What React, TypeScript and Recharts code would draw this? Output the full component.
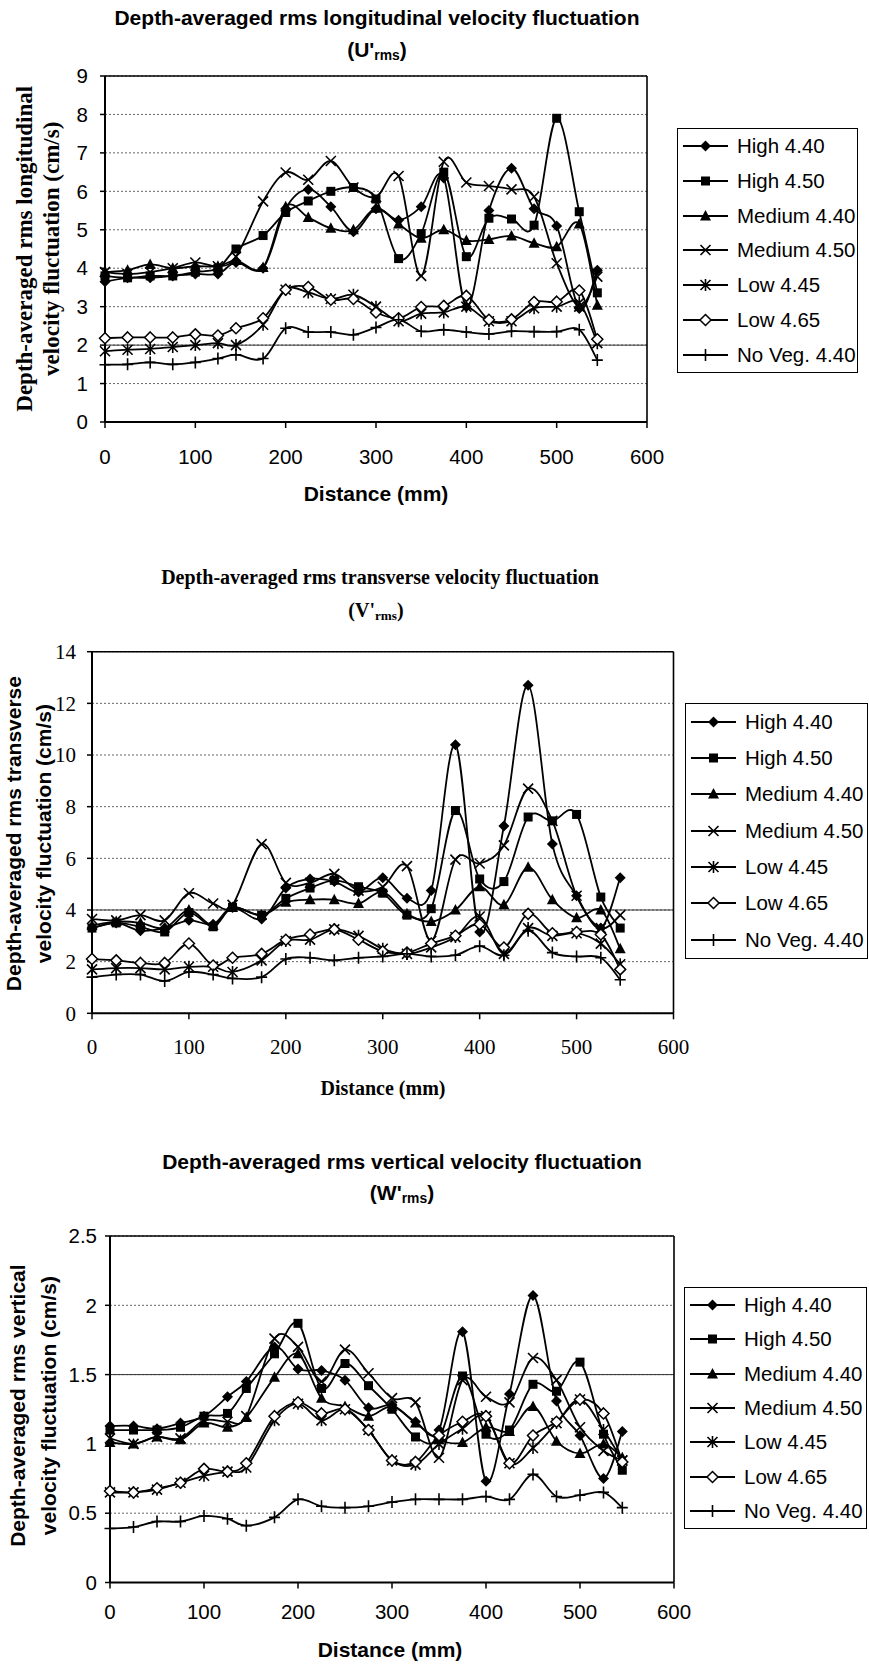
import React from "react";
import { CartesianGrid, Legend, Line, LineChart, ReferenceLine, XAxis, YAxis } from "recharts";

const SANS = '"Liberation Sans", Arial, sans-serif';
const SERIF = '"Liberation Serif", "Times New Roman", serif';

// distance along the flume (mm)
const distance = [0, 25, 50, 75, 100, 125, 145, 175, 200, 225, 250, 275, 300, 325, 350, 375, 400, 425, 450, 475, 500, 525, 545];

const seriesNames = ["High 4.40", "High 4.50", "Medium 4.40", "Medium 4.50", "Low 4.45", "Low 4.65", "No Veg. 4.40"];
const markerKinds = ["diamond", "square", "triangle", "cross", "star", "openDiamond", "plus"];

// U'rms (cm/s)
const uHigh440 = [3.65, 3.75, 3.75, 3.8, 3.85, 3.85, 4.15, 4.0, 5.55, 6.05, 5.6, 4.95, 5.55, 5.25, 5.6, 6.35, 3.0, 5.5, 6.6, 5.55, 5.1, 2.95, 3.95];
const uHigh450 = [3.8, 3.75, 3.8, 3.8, 3.9, 4.0, 4.5, 4.85, 5.45, 5.75, 6.0, 6.1, 5.8, 4.25, 4.9, 6.5, 4.3, 5.3, 5.28, 5.12, 7.9, 5.47, 3.36];
const uMed440 = [3.9, 3.95, 4.1, 4.0, 4.05, 4.05, 4.2, 4.02, 5.6, 5.32, 5.04, 5.0, 5.56, 5.15, 4.78, 5.0, 4.72, 4.75, 4.84, 4.65, 4.56, 5.15, 3.04];
const uMed450 = [3.9, 3.85, 3.9, 4.0, 4.15, 4.05, 4.3, 5.74, 6.49, 6.3, 6.79, 6.1, 5.85, 6.4, 3.8, 6.77, 6.23, 6.14, 6.05, 5.86, 4.13, 3.0, 3.78];
const uLow445 = [1.84, 1.88, 1.9, 1.95, 2.0, 2.05, 2.0, 2.53, 3.44, 3.37, 3.2, 3.31, 3.0, 2.62, 2.82, 2.85, 3.0, 2.62, 2.62, 2.96, 3.0, 3.1, 2.05];
const uLow465 = [2.18, 2.2, 2.2, 2.2, 2.28, 2.25, 2.44, 2.7, 3.44, 3.51, 3.18, 3.2, 2.85, 2.7, 2.99, 3.02, 3.28, 2.66, 2.67, 3.12, 3.13, 3.42, 2.15];
const uNoVeg = [1.49, 1.5, 1.55, 1.5, 1.55, 1.65, 1.75, 1.65, 2.44, 2.34, 2.34, 2.27, 2.46, 2.66, 2.36, 2.4, 2.34, 2.29, 2.36, 2.35, 2.35, 2.4, 1.61];

// V'rms (cm/s)
const vHigh440 = [3.3, 3.5, 3.2, 3.3, 3.6, 3.45, 4.1, 3.65, 4.85, 5.2, 5.1, 4.7, 5.25, 4.45, 4.75, 10.4, 3.15, 7.25, 12.7, 6.55, 4.55, 3.3, 5.25];
const vHigh450 = [3.3, 3.5, 3.35, 3.15, 3.9, 3.35, 4.1, 3.8, 4.45, 4.85, 5.15, 4.9, 4.65, 3.8, 4.05, 7.85, 5.2, 5.1, 7.6, 7.45, 7.7, 4.5, 3.3];
const vMed440 = [3.4, 3.55, 3.5, 3.3, 4.0, 3.4, 4.1, 3.8, 4.3, 4.4, 4.4, 4.25, 4.7, 3.85, 3.55, 4.0, 4.9, 4.2, 5.65, 4.4, 3.7, 4.0, 2.5];
const vMed450 = [3.65, 3.6, 3.8, 3.6, 4.65, 4.25, 4.2, 6.55, 5.05, 5.05, 5.4, 4.75, 4.9, 5.7, 2.8, 5.95, 5.8, 6.5, 8.7, 7.45, 4.55, 3.3, 3.8];
const vLow445 = [1.7, 1.75, 1.75, 1.7, 1.8, 1.8, 1.6, 2.05, 2.8, 2.85, 3.25, 3.0, 2.5, 2.3, 2.55, 2.95, 3.75, 2.3, 3.3, 3.0, 3.1, 2.7, 1.9];
const vLow465 = [2.1, 2.05, 1.95, 1.95, 2.7, 1.85, 2.15, 2.3, 2.85, 3.05, 3.25, 2.85, 2.4, 2.35, 2.7, 3.0, 3.45, 2.55, 3.85, 3.1, 3.15, 3.05, 1.7];
const vNoVeg = [1.4, 1.5, 1.5, 1.25, 1.6, 1.5, 1.35, 1.4, 2.1, 2.15, 2.05, 2.15, 2.2, 2.3, 2.2, 2.25, 2.6, 2.25, 3.2, 2.35, 2.2, 2.15, 1.3];

// W'rms (cm/s)
const wHigh440 = [1.13, 1.13, 1.11, 1.15, 1.2, 1.34, 1.45, 1.7, 1.54, 1.53, 1.46, 1.26, 1.28, 1.16, 1.1, 1.81, 0.73, 1.36, 2.07, 1.31, 1.06, 0.75, 1.09];
const wHigh450 = [1.1, 1.1, 1.1, 1.12, 1.2, 1.22, 1.4, 1.65, 1.87, 1.4, 1.58, 1.42, 1.25, 1.05, 1.04, 1.49, 1.07, 1.1, 1.43, 1.38, 1.59, 1.07, 0.81];
const wMed440 = [1.01, 1.0, 1.05, 1.03, 1.15, 1.12, 1.19, 1.48, 1.65, 1.33, 1.27, 1.2, 1.27, 1.15, 1.03, 1.01, 1.12, 1.09, 1.27, 1.02, 0.93, 1.0, 0.9];
const wMed450 = [1.04, 1.0, 1.05, 1.04, 1.17, 1.16, 1.2, 1.76, 1.7, 1.45, 1.68, 1.51, 1.33, 1.3, 0.9, 1.46, 1.34, 1.3, 1.62, 1.46, 1.12, 0.95, 0.88];
const wLow445 = [0.65, 0.65, 0.67, 0.72, 0.77, 0.8, 0.83, 1.17, 1.29, 1.17, 1.25, 1.1, 0.88, 0.85, 1.0, 1.11, 1.2, 0.86, 0.97, 1.15, 1.32, 1.1, 0.88];
const wLow465 = [0.66, 0.65, 0.68, 0.72, 0.82, 0.8, 0.86, 1.2, 1.3, 1.22, 1.25, 1.1, 0.88, 0.87, 1.06, 1.16, 1.2, 0.86, 1.06, 1.16, 1.32, 1.22, 0.87];
const wNoVeg = [0.39, 0.4, 0.44, 0.44, 0.48, 0.46, 0.41, 0.47, 0.6, 0.55, 0.54, 0.55, 0.58, 0.6, 0.6, 0.6, 0.62, 0.6, 0.78, 0.62, 0.63, 0.65, 0.54];

const xTicks = [0, 100, 200, 300, 400, 500, 600];
const uTicks = [0, 1, 2, 3, 4, 5, 6, 7, 8, 9];
const vTicks = [0, 2, 4, 6, 8, 10, 12, 14];
const wTicks = [0, 0.5, 1, 1.5, 2, 2.5];

const toRows = (cols: number[][]) =>
  distance.map((d, i) => {
    const row: Record<string, number> = { d };
    cols.forEach((c, k) => (row["s" + k] = c[i]));
    return row;
  });

const uRows = toRows([uHigh440, uHigh450, uMed440, uMed450, uLow445, uLow465, uNoVeg]);
const vRows = toRows([vHigh440, vHigh450, vMed440, vMed450, vLow445, vLow465, vNoVeg]);
const wRows = toRows([wHigh440, wHigh450, wMed440, wMed450, wLow445, wLow465, wNoVeg]);

// Excel-style smoothed line (Catmull-Rom through the points)
const excelSmooth = (context: any) => {
  let pts: number[][] = [];
  return {
    areaStart() {},
    areaEnd() {},
    lineStart() {
      pts = [];
    },
    point(x: number, y: number) {
      pts.push([+x, +y]);
    },
    lineEnd() {
      const n = pts.length;
      if (!n) return;
      context.moveTo(pts[0][0], pts[0][1]);
      for (let i = 0; i < n - 1; i++) {
        const p0 = pts[i - 1] || pts[i];
        const p1 = pts[i];
        const p2 = pts[i + 1];
        const p3 = pts[i + 2] || p2;
        context.bezierCurveTo(
          p1[0] + (p2[0] - p0[0]) / 6,
          p1[1] + (p2[1] - p0[1]) / 6,
          p2[0] - (p3[0] - p1[0]) / 6,
          p2[1] - (p3[1] - p1[1]) / 6,
          p2[0],
          p2[1]
        );
      }
    },
  };
};

function Marker({ kind, cx, cy }: { kind: string; cx: number; cy: number }) {
  const s = 5.5;
  const ln = { stroke: "#000", strokeWidth: 1.6, fill: "none" };
  if (cx == null || cy == null) return null;
  switch (kind) {
    case "diamond":
      return <polygon points={`${cx},${cy - s} ${cx + s},${cy} ${cx},${cy + s} ${cx - s},${cy}`} fill="#000" />;
    case "square":
      return <rect x={cx - 4.5} y={cy - 4.5} width={9} height={9} fill="#000" />;
    case "triangle":
      return <polygon points={`${cx},${cy - 6} ${cx + 5.5},${cy + 4.5} ${cx - 5.5},${cy + 4.5}`} fill="#000" />;
    case "cross":
      return <path d={`M${cx - 5},${cy - 5}L${cx + 5},${cy + 5}M${cx - 5},${cy + 5}L${cx + 5},${cy - 5}`} {...ln} />;
    case "star":
      return (
        <path
          d={`M${cx - 5},${cy - 5}L${cx + 5},${cy + 5}M${cx - 5},${cy + 5}L${cx + 5},${cy - 5}M${cx},${cy - 6}L${cx},${cy + 6}`}
          {...ln}
        />
      );
    case "openDiamond":
      return (
        <polygon
          points={`${cx},${cy - s} ${cx + s},${cy} ${cx},${cy + s} ${cx - s},${cy}`}
          fill="#fff"
          stroke="#000"
          strokeWidth={1.5}
        />
      );
    default:
      return <path d={`M${cx - 5.5},${cy}L${cx + 5.5},${cy}M${cx},${cy - 6}L${cx},${cy + 6}`} {...ln} />;
  }
}

function LegendBox({ width, height }: { width: number; height: number }) {
  return (
    <div
      style={{
        width,
        height,
        boxSizing: "border-box",
        border: "1.5px solid #000",
        background: "#fff",
        display: "flex",
        flexDirection: "column",
        justifyContent: "space-around",
        fontFamily: SANS,
        fontSize: 20.5,
        color: "#000",
      }}
    >
      {seriesNames.map((name, i) => (
        <div key={name} style={{ display: "flex", alignItems: "center", height: 24, whiteSpace: "nowrap" }}>
          <svg width={54} height={20} style={{ marginLeft: 5, flex: "none" }}>
            <line x1={0} y1={10} x2={45} y2={10} stroke="#000" strokeWidth={1.8} />
            <Marker kind={markerKinds[i]} cx={22.5} cy={10} />
          </svg>
          <span>{name}</span>
        </div>
      ))}
    </div>
  );
}

type Txt = { text: React.ReactNode; x: number; y: number; size: number; family: string; bold?: boolean; rotate?: boolean };

function Label({ text, x, y, size, family, bold, rotate }: Txt) {
  return (
    <div
      style={{
        position: "absolute",
        left: x - 300,
        top: y - size * 0.6,
        width: 600,
        height: size * 1.2,
        lineHeight: `${size * 1.2}px`,
        textAlign: "center",
        fontFamily: family,
        fontWeight: bold ? 700 : 400,
        fontSize: size,
        color: "#000",
        whiteSpace: "nowrap",
        transform: rotate ? "rotate(-90deg)" : undefined,
        transformOrigin: "center",
      }}
    >
      {text}
    </div>
  );
}

const rms = (sym: string) => (
  <>
    ({sym}'<span style={{ fontSize: "0.66em", verticalAlign: "-0.25em" }}>rms</span>)
  </>
);

type Panel = {
  top: number;
  height: number;
  rows: Record<string, number>[];
  yMax: number;
  yTicks: number[];
  solid: number;
  margin: { top: number; right: number; left: number; bottom: number };
  tickFamily: string;
  tickSize: number;
  xTickMargin: number;
  yTickMargin: number;
  legend: { left: number; top: number; width: number; height: number };
};

const panels: Panel[] = [
  {
    top: 0,
    height: 540,
    rows: uRows,
    yMax: 9,
    yTicks: uTicks,
    solid: 2,
    margin: { top: 76, right: 222, left: 45, bottom: 78 },
    tickFamily: SANS,
    tickSize: 20.5,
    xTickMargin: 21.5,
    yTickMargin: 12,
    legend: { left: 677, top: 128, width: 181, height: 245 },
  },
  {
    top: 540,
    height: 560,
    rows: vRows,
    yMax: 14,
    yTicks: vTicks,
    solid: 4,
    margin: { top: 111.7, right: 195.5, left: 32, bottom: 46.7 },
    tickFamily: SERIF,
    tickSize: 21,
    xTickMargin: 19.5,
    yTickMargin: 11,
    legend: { left: 685, top: 162.7, width: 183, height: 256 },
  },
  {
    top: 1100,
    height: 566,
    rows: wRows,
    yMax: 2.5,
    yTicks: wTicks,
    solid: 1.5,
    margin: { top: 136, right: 195, left: 50, bottom: 43.5 },
    tickFamily: SANS,
    tickSize: 20.5,
    xTickMargin: 16,
    yTickMargin: 8,
    legend: { left: 684, top: 187, width: 183, height: 242 },
  },
];

const labels: Txt[] = [
  { text: "Depth-averaged rms longitudinal velocity fluctuation", x: 377, y: 18, size: 21, family: SANS, bold: true },
  { text: rms("U"), x: 377, y: 50, size: 21, family: SANS, bold: true },
  { text: "Depth-averaged rms longitudinal", x: 25, y: 249, size: 23, family: SERIF, bold: true, rotate: true },
  { text: "velocity fluctuation (cm/s)", x: 52, y: 249, size: 23, family: SERIF, bold: true, rotate: true },
  { text: "Distance (mm)", x: 376, y: 494, size: 21, family: SANS, bold: true },

  { text: "Depth-averaged rms transverse velocity fluctuation", x: 380, y: 577, size: 20, family: SERIF, bold: true },
  { text: rms("V"), x: 376, y: 610, size: 20, family: SERIF, bold: true },
  { text: "Depth-averaged rms transverse", x: 14, y: 834, size: 21, family: SANS, bold: true, rotate: true },
  { text: "velocity fluctuation (cm/s)", x: 44, y: 834, size: 21, family: SANS, bold: true, rotate: true },
  { text: "Distance (mm)", x: 383, y: 1088, size: 20, family: SERIF, bold: true },

  { text: "Depth-averaged rms vertical velocity fluctuation", x: 402, y: 1162, size: 21, family: SANS, bold: true },
  { text: rms("W"), x: 402, y: 1193, size: 21, family: SANS, bold: true },
  { text: "Depth-averaged rms vertical", x: 18, y: 1406, size: 21, family: SANS, bold: true, rotate: true },
  { text: "velocity fluctuation (cm/s)", x: 49, y: 1406, size: 21, family: SANS, bold: true, rotate: true },
  { text: "Distance (mm)", x: 390, y: 1650, size: 21, family: SANS, bold: true },
];

function ChartPanel({ p }: { p: Panel }) {
  const tick = { fontFamily: p.tickFamily, fontSize: p.tickSize, fill: "#000" };
  return (
    <div style={{ position: "absolute", left: 0, top: p.top }}>
      <LineChart width={869} height={p.height} data={p.rows} margin={p.margin}>
        <CartesianGrid vertical={false} stroke="#666" strokeDasharray="2 2" />
        <ReferenceLine y={p.solid} stroke="#333" strokeWidth={1} />
        <ReferenceLine y={p.yMax} stroke="#000" strokeWidth={1.6} />
        <ReferenceLine x={600} stroke="#000" strokeWidth={1.6} />
        <XAxis
          dataKey="d"
          type="number"
          domain={[0, 600]}
          ticks={xTicks}
          height={40}
          tick={tick}
          tickSize={6}
          tickMargin={p.xTickMargin}
          axisLine={{ stroke: "#000", strokeWidth: 2 }}
          tickLine={{ stroke: "#000", strokeWidth: 1.5 }}
        />
        <YAxis
          type="number"
          domain={[0, p.yMax]}
          ticks={p.yTicks}
          interval={0}
          width={60}
          tick={tick}
          tickSize={5}
          tickMargin={p.yTickMargin}
          axisLine={{ stroke: "#000", strokeWidth: 2 }}
          tickLine={{ stroke: "#000", strokeWidth: 1.5 }}
        />
        {seriesNames.map((name, k) => (
          <Line
            key={name}
            name={name}
            dataKey={"s" + k}
            type={excelSmooth as any}
            stroke="#000"
            strokeWidth={1.8}
            dot={(dp: any) => <Marker key={`${name}-${dp.index}`} kind={markerKinds[k]} cx={dp.cx} cy={dp.cy} />}
            activeDot={false}
            isAnimationActive={false}
          />
        ))}
        <Legend
          layout="vertical"
          align="center"
          verticalAlign="middle"
          wrapperStyle={{ ...p.legend, position: "absolute" }}
          content={() => <LegendBox width={p.legend.width} height={p.legend.height} />}
        />
      </LineChart>
    </div>
  );
}

export default function App() {
  return (
    <div style={{ position: "absolute", left: 0, top: 0, width: 869, height: 1666, background: "#fff", overflow: "hidden" }}>
      {panels.map((p, i) => (
        <ChartPanel key={i} p={p} />
      ))}
      {labels.map((t, i) => (
        <Label key={i} {...t} />
      ))}
    </div>
  );
}
